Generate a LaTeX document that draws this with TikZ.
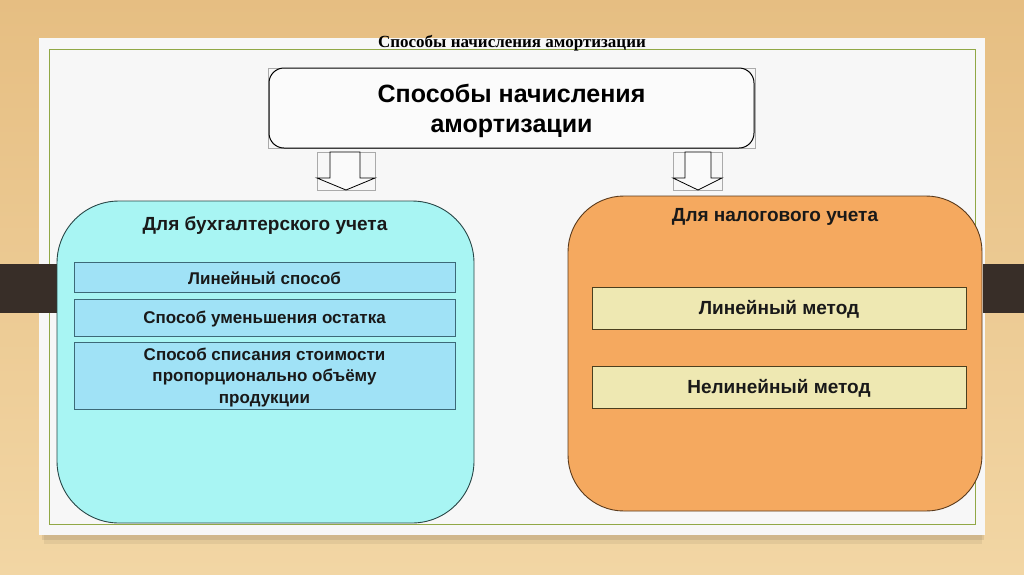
\documentclass[tikz,border=0pt]{standalone}
\usepackage{fontspec}
\setmainfont{Liberation Sans}
\newfontfamily\headfont{Liberation Serif}
\definecolor{bgtop}{RGB}{230,190,130}
\definecolor{bgbot}{RGB}{242,214,164}
\definecolor{cardwhite}{RGB}{247,247,247}
\definecolor{greenline}{RGB}{145,168,70}
\definecolor{barbrown}{RGB}{56,46,40}
\definecolor{cyanfill}{RGB}{168,245,243}
\definecolor{cyanline}{RGB}{40,70,70}
\definecolor{bluefill}{RGB}{160,226,246}
\definecolor{blueline}{RGB}{60,105,120}
\definecolor{orangefill}{RGB}{245,169,95}
\definecolor{orangeline}{RGB}{90,58,28}
\definecolor{yellowfill}{RGB}{238,232,178}
\definecolor{yellowline}{RGB}{75,63,30}
\definecolor{ghostgray}{RGB}{170,170,170}
\tikzset{
  bigtext/.style={font=\fontsize{25}{30}\selectfont\bfseries, align=center, text=black, inner sep=0pt},
  titletext/.style={font=\fontsize{19}{22}\selectfont\bfseries, align=center, text=black!90, inner sep=0pt},
  midtext/.style={font=\fontsize{17}{21.5}\selectfont\bfseries, align=center, text=black!90, inner sep=0pt},
  ortext/.style={font=\fontsize{19}{22}\selectfont\bfseries, align=center, text=black!90, inner sep=0pt},
  topbox/.style={draw=black, line width=1pt, fill=white!97!gray, rounded corners=15pt, inner sep=0pt},
  cyanbox/.style={draw=cyanline, fill=cyanfill, line width=0.9pt, rounded corners=62pt, inner sep=0pt},
  orangebox/.style={draw=orangeline, fill=orangefill, line width=0.9pt, rounded corners=56pt, inner sep=0pt},
  bluebox/.style={draw=blueline, fill=bluefill, line width=0.9pt, inner sep=0pt},
  yellowbox/.style={draw=yellowline, fill=yellowfill, line width=0.9pt, inner sep=0pt},
  blockarrow/.style={draw=black, line width=0.8pt, fill=white!96!gray},
  ghost/.style={draw=ghostgray, line width=0.4pt}
}
\begin{document}
\begin{tikzpicture}[x=1pt,y=-1pt]
\useasboundingbox (0,0) rectangle (1024,574);
% background
\shade[top color=bgtop, bottom color=bgbot] (0,0) rectangle (1024,574);
% card shadow
\fill[black, opacity=0.06] (44,535) rectangle (982,544);
\fill[black, opacity=0.08] (42,535) rectangle (984,540);
% white card
\fill[cardwhite] (39,38) rectangle (985,535);
\draw[greenline, line width=1pt] (49,49) rectangle (975,524);
% brown bars
\fill[barbrown] (0,264) rectangle (60,313);
\fill[barbrown] (983,264) rectangle (1024,313);
% header title
\node[font=\headfont\fontsize{17}{20}\selectfont\bfseries, inner sep=0pt] (hdr) at (512,43.5) {Способы начисления амортизации};
% top box
\draw[ghost] (268,68) rectangle (755,148);
\node[topbox, minimum width=485pt, minimum height=80pt] (top) at (511.5,108) {};
\node[bigtext] (toptxt) at (511.5,111) {Способы начисления\\амортизации};
% arrows
\draw[ghost] (317,152) rectangle (375,190);
\draw[blockarrow] (330,152) -- (330,178) -- (317,178) -- (346,190) -- (375,178) -- (360,178) -- (360,152) -- cycle;
\draw[ghost] (673,152) rectangle (722,190);
\draw[blockarrow] (685,152) -- (685,178) -- (673,178) -- (698,190) -- (722,178) -- (711,178) -- (711,152) -- cycle;
% accounting
\node[cyanbox, minimum width=417pt, minimum height=322pt] (acc) at (265.5,362) {};
\node[titletext] (acct) at (265,225) {Для бухгалтерского учета};
\node[bluebox, minimum width=381pt, minimum height=30pt] (a1) at (265,277) {};
\node[midtext] (a1t) at (264.5,278) {Линейный способ};
\node[bluebox, minimum width=381pt, minimum height=37pt] (a2) at (265,317.5) {};
\node[midtext] (a2t) at (264.5,319) {Способ уменьшения остатка};
\node[bluebox, minimum width=381pt, minimum height=67pt] (a3) at (265,375.5) {};
\node[midtext] (a3t) at (264.5,377.5) {Способ списания стоимости\\пропорционально объёму\\продукции};
% tax
\node[orangebox, minimum width=414pt, minimum height=315pt] (tax) at (775,353.5) {};
\node[titletext] (taxt) at (775,217) {Для налогового учета};
\node[yellowbox, minimum width=374pt, minimum height=42pt] (t1) at (779,308) {};
\node[ortext] (t1t) at (779,309.5) {Линейный метод};
\node[yellowbox, minimum width=374pt, minimum height=42pt] (t2) at (779,387) {};
\node[ortext] (t2t) at (779,388) {Нелинейный метод};
\end{tikzpicture}
\end{document}
